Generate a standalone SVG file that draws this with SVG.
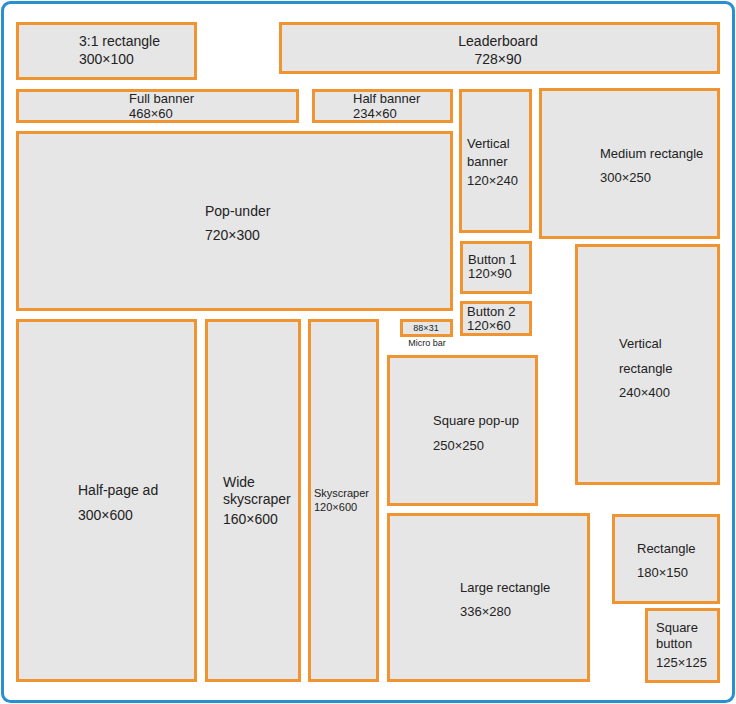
<svg xmlns="http://www.w3.org/2000/svg" width="736" height="704" viewBox="0 0 736 704">
<style>
.b{fill:#e6e6e6;stroke:#ef9430;stroke-width:3}
text{font-family:"Liberation Sans",Arial,sans-serif;font-size:14px;fill:#222}
.s{font-size:13px}
.xs{font-size:11px}
.m{font-size:9px}
</style>
<rect x="2.5" y="2.5" width="731" height="699" rx="8" fill="#fff" stroke="#2a8fd0" stroke-width="3"/>
<g id="r31"><rect class="b" x="17.5" y="23.5" width="178" height="55"/><text x="79" y="46">3:1 rectangle</text><text x="79" y="64">300×100</text></g>
<g id="leaderboard"><rect class="b" x="280.5" y="23.5" width="438" height="49"/><text x="498" y="46" text-anchor="middle">Leaderboard</text><text x="498" y="64" text-anchor="middle">728×90</text></g>
<g id="fullbanner"><rect class="b" x="17.5" y="90.5" width="280" height="31"/><text class="s" x="129" y="103">Full banner</text><text class="s" x="129" y="118">468×60</text></g>
<g id="halfbanner"><rect class="b" x="313.5" y="90.5" width="138" height="31"/><text class="s" x="353" y="103">Half banner</text><text class="s" x="353" y="118">234×60</text></g>
<g id="verticalbanner"><rect class="b" x="460.5" y="90.5" width="70" height="141"/><text class="s" x="467" y="148">Vertical</text><text class="s" x="467" y="166">banner</text><text class="s" x="467" y="185">120×240</text></g>
<g id="mediumrect"><rect class="b" x="540.5" y="89.5" width="178" height="148"/><text class="s" x="600" y="158">Medium rectangle</text><text class="s" x="600" y="182">300×250</text></g>
<g id="popunder"><rect class="b" x="17.5" y="132.5" width="434" height="177"/><text x="205" y="216">Pop-under</text><text x="205" y="240">720×300</text></g>
<g id="button1"><rect class="b" x="461.5" y="242.5" width="69" height="50"/><text class="s" x="468" y="264">Button 1</text><text class="s" x="468" y="278">120×90</text></g>
<g id="button2"><rect class="b" x="461.5" y="302.5" width="69" height="32"/><text class="s" x="467" y="316">Button 2</text><text class="s" x="467" y="330">120×60</text></g>
<g id="microbar"><rect class="b" x="401.5" y="320.5" width="50" height="15"/><text class="m" x="426" y="331" text-anchor="middle">88×31</text><text class="m" x="427" y="346" text-anchor="middle">Micro bar</text></g>
<g id="verticalrect"><rect class="b" x="576.5" y="245.5" width="142" height="238"/><text class="s" x="619" y="348">Vertical</text><text class="s" x="619" y="373">rectangle</text><text class="s" x="619" y="397">240×400</text></g>
<g id="halfpage"><rect class="b" x="17.5" y="320.5" width="178" height="360"/><text x="78" y="495">Half-page ad</text><text x="78" y="520">300×600</text></g>
<g id="wideskyscraper"><rect class="b" x="206.5" y="320.5" width="93" height="360"/><text x="223" y="487">Wide</text><text x="223" y="504">skyscraper</text><text x="223" y="524">160×600</text></g>
<g id="skyscraper"><rect class="b" x="309.5" y="320.5" width="68" height="360"/><text class="xs" x="314" y="497">Skyscraper</text><text class="xs" x="314" y="511">120×600</text></g>
<g id="squarepopup"><rect class="b" x="388.5" y="356.5" width="148" height="148"/><text class="s" x="433" y="425">Square pop-up</text><text class="s" x="433" y="450">250×250</text></g>
<g id="largerect"><rect class="b" x="388.5" y="514.5" width="200" height="166"/><text class="s" x="460" y="592">Large rectangle</text><text class="s" x="460" y="616">336×280</text></g>
<g id="rectangle"><rect class="b" x="613.5" y="515.5" width="105" height="87"/><text class="s" x="637" y="553">Rectangle</text><text class="s" x="637" y="577">180×150</text></g>
<g id="squarebutton"><rect class="b" x="646.5" y="609.5" width="72" height="72"/><text class="s" x="656" y="632">Square</text><text class="s" x="656" y="648">button</text><text class="s" x="656" y="667">125×125</text></g>
<g id="connectors"></g>
</svg>
